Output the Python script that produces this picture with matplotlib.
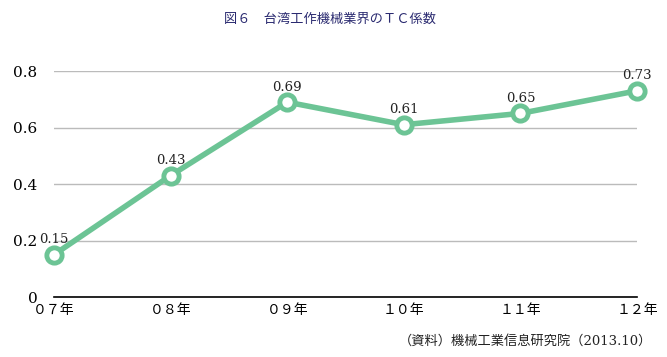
import matplotlib.pyplot as plt

years = ['０７年', '０８年', '０９年', '１０年', '１１年', '１２年']
tc = [0.15, 0.43, 0.69, 0.61, 0.65, 0.73]
yticks = [0, 0.2, 0.4, 0.6, 0.8]
ylabels = ['0', '0.2', '0.4', '0.6', '0.8']

fonts = ['DejaVu Serif', 'Noto Sans CJK JP', 'DejaVu Sans']
plt.rcParams['font.family'] = fonts

fig = plt.figure(figsize=(6.67, 3.57), dpi=100)
ax = fig.add_axes([0.081, 0.168, 0.874, 0.633])

green = '#6cc495'
x = list(range(len(years)))
ax.plot(x, tc, color=green, linewidth=4, marker='o', markersize=11,
        markerfacecolor='white', markeredgecolor=green, markeredgewidth=3.5,
        clip_on=False, zorder=3)
for i, v in enumerate(tc):
    ax.annotate(f'{v:.2f}', (i, v), xytext=(0, 6), textcoords='offset points',
                ha='center', va='bottom', fontsize=9.5, color='#222222')

ax.set_xlim(0, len(years) - 1)
ax.set_ylim(0, 0.8)
ax.set_xticks(x)
ax.set_xticklabels(years, fontsize=10)
ax.set_yticks(yticks)
ax.set_yticklabels(ylabels, fontsize=11)
ax.tick_params(axis='y', length=0, pad=12)
ax.tick_params(axis='x', length=0, pad=4)
ax.grid(axis='y', color='#bbbbbb', linewidth=1)
for s in ['top', 'right', 'left']:
    ax.spines[s].set_visible(False)
ax.spines['bottom'].set_color('black')
ax.spines['bottom'].set_linewidth(1.2)
ax.set_axisbelow(True)

fig.text(0.495, 0.945, '図６　台湾工作機械業界のＴＣ係数', ha='center', va='center',
         fontsize=9.5, color='#2a2a70')
fig.text(0.978, 0.045, '（資料）機械工業信息研究院（2013.10）', ha='right', va='center',
         fontsize=9.5, color='#222222')

fig.savefig('out.png', dpi=100)
